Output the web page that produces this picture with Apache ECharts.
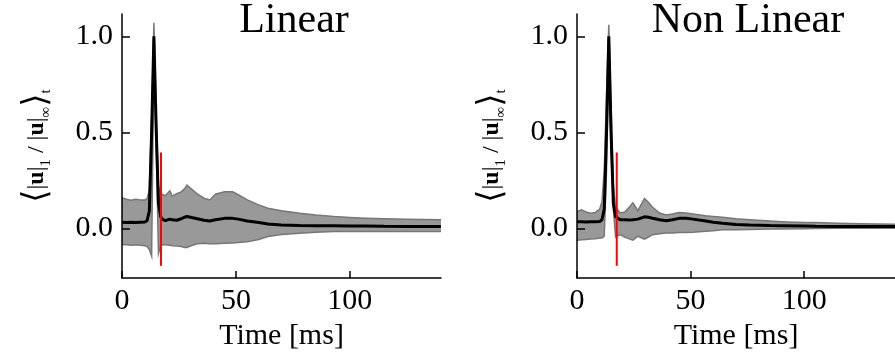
<!DOCTYPE html>
<html>
<head>
<meta charset="utf-8">
<script src="https://cdn.jsdelivr.net/npm/echarts@6/dist/echarts.min.js"></script>
<style>html,body{margin:0;padding:0;background:#fff}#c{width:895px;height:356px}</style>
</head>
<body>
<div id="c"></div>
<script>
// ---------- data ----------
const titles = ['Linear', 'Non Linear'];
const xTicks = [0, 50, 100];
const yTicks = [0, 0.5, 1.0];

const timeLin  = [0, 2, 4, 6, 8, 10, 11, 12, 13, 14, 15, 16, 17, 18, 19, 21, 22, 24, 26, 27.5, 28.5, 30, 33, 36, 38.5, 41, 45, 48.5, 51, 55, 60, 64, 70, 78, 85, 93, 100, 107, 115, 125, 140];
const meanLin  = [0.032, 0.03, 0.032, 0.03, 0.032, 0.033, 0.04, 0.09, 0.5, 1.0, 0.52, 0.13, 0.06, 0.045, 0.04, 0.048, 0.045, 0.042, 0.05, 0.058, 0.062, 0.058, 0.05, 0.042, 0.038, 0.045, 0.052, 0.052, 0.048, 0.038, 0.03, 0.023, 0.018, 0.015, 0.014, 0.013, 0.012, 0.012, 0.011, 0.01, 0.01];
const upperLin = [0.16, 0.152, 0.147, 0.152, 0.148, 0.147, 0.155, 0.2, 0.58, 1.07, 0.6, 0.22, 0.18, 0.175, 0.17, 0.195, 0.168, 0.18, 0.19, 0.207, 0.225, 0.21, 0.18, 0.157, 0.148, 0.178, 0.19, 0.19, 0.175, 0.148, 0.122, 0.105, 0.092, 0.079, 0.07, 0.062, 0.057, 0.053, 0.05, 0.047, 0.045];
const lowerLin = [-0.084, -0.085, -0.088, -0.085, -0.088, -0.09, -0.095, -0.11, -0.145, 0.93, 0.44, -0.13, -0.09, -0.084, -0.085, -0.088, -0.09, -0.092, -0.095, -0.1, -0.1, -0.092, -0.08, -0.078, -0.08, -0.08, -0.078, -0.076, -0.074, -0.07, -0.058, -0.042, -0.032, -0.025, -0.02, -0.017, -0.016, -0.016, -0.016, -0.016, -0.016];

const timeNon  = [0, 2, 4, 6, 8, 10, 11, 12, 13, 14, 15, 16, 17, 19, 21, 23, 24.6, 26.8, 29.7, 31.5, 33.3, 36.3, 39.2, 42, 45, 48, 51, 56.7, 60, 64, 70, 76, 85, 90, 100, 105, 115, 125, 140];
const meanNon  = [0.035, 0.035, 0.033, 0.034, 0.035, 0.036, 0.045, 0.1, 0.5, 1.0, 0.5, 0.13, 0.06, 0.045, 0.045, 0.043, 0.045, 0.048, 0.06, 0.058, 0.053, 0.045, 0.04, 0.045, 0.052, 0.052, 0.048, 0.038, 0.032, 0.026, 0.02, 0.017, 0.015, 0.014, 0.012, 0.011, 0.01, 0.01, 0.01];
const upperNon = [0.087, 0.096, 0.085, 0.079, 0.082, 0.1, 0.14, 0.3, 0.7, 1.06, 0.62, 0.22, 0.11, 0.08, 0.085, 0.11, 0.133, 0.092, 0.155, 0.135, 0.11, 0.08, 0.07, 0.075, 0.082, 0.08, 0.075, 0.066, 0.062, 0.058, 0.05, 0.045, 0.038, 0.035, 0.031, 0.03, 0.027, 0.024, 0.022];
const lowerNon = [-0.062, -0.06, -0.058, -0.056, -0.054, -0.05, -0.05, -0.04, 0.3, 0.93, 0.4, 0.1, -0.045, -0.033, -0.045, -0.055, -0.062, -0.041, -0.056, -0.045, -0.033, -0.028, -0.024, -0.024, -0.022, -0.021, -0.02, -0.015, -0.012, -0.007, -0.007, -0.006, -0.004, -0.003, -0.002, -0.001, 0, 0, 0];

const markerTime = [17.1, 17.5];
const markerRange = [-0.195, 0.395];

// ---------- chart ----------
const FONT = "'Liberation Serif','DejaVu Serif',serif";
const panels = [
  {t: timeLin, m: meanLin, u: upperLin, l: lowerLin, mk: markerTime[0]},
  {t: timeNon, m: meanNon, u: upperNon, l: lowerNon, mk: markerTime[1]}
];
const grids = [
  {left: 122, top: 14, width: 319, height: 268.5},
  {left: 577, top: 14, width: 320, height: 268.5}
];
const pair = (t, v) => t.map((x, i) => [x, v[i]]);

const option = {
  animation: false,
  backgroundColor: '#fff',
  title: titles.map((s, i) => ({
    text: s,
    left: i === 0 ? 289 : 743,
    top: -5,
    textAlign: 'center',
    textStyle: {fontFamily: FONT, fontSize: 42, fontWeight: 'normal', color: '#000'}
  })),
  grid: grids,
  xAxis: grids.map((g, i) => ({
    type: 'value', gridIndex: i, min: 0, max: 140, z: 5,
    name: 'Time [ms]', nameLocation: 'middle', nameGap: 38,
    nameTextStyle: {fontFamily: FONT, fontSize: 30, color: '#000'},
    axisLine: {onZero: false, lineStyle: {color: '#000', width: 1.5}},
    axisTick: {inside: true, length: 7, customValues: xTicks, lineStyle: {color: '#000', width: 1.5}},
    axisLabel: {customValues: xTicks, margin: 8, fontFamily: FONT, fontSize: 30, color: '#000'},
    splitLine: {show: false}
  })),
  yAxis: grids.map((g, i) => ({
    type: 'value', gridIndex: i, min: -0.259, max: 1.116, z: 5,
    name: '{br|⟨}{v||}{u|u}{v||}{s|1}{v| / }{v||}{u|u}{v||}{s|∞}{br|⟩}{s|t}',
    nameLocation: 'middle', nameGap: 68, nameRotate: 90,
    nameTextStyle: {
      fontFamily: FONT, fontSize: 24, color: '#000',
      rich: {
        br: {fontFamily: FONT, fontSize: 34, color: '#000'},
        v: {fontFamily: FONT, fontSize: 24, color: '#000'},
        u: {fontFamily: FONT, fontSize: 24, fontWeight: 'bold', color: '#000'},
        s: {fontFamily: FONT, fontSize: 15, color: '#000', verticalAlign: 'bottom', padding: [14, 0, 0, 0]}
      }
    },
    axisLine: {show: true, onZero: false, lineStyle: {color: '#000', width: 1.5}},
    axisTick: {show: true, inside: true, length: 8, customValues: yTicks, lineStyle: {color: '#000', width: 1.5}},
    axisLabel: {customValues: yTicks, margin: 9, fontFamily: FONT, fontSize: 30, color: '#000',
      formatter: v => v.toFixed(1)},
    splitLine: {show: false}
  })),
  series: []
};

panels.forEach((p, i) => {
  // band: one custom item that draws the polygon between lower and upper through api.coord
  const bandData = p.t.map((x, k) => [x, p.l[k], p.u[k]]);
  option.series.push({
    type: 'custom', xAxisIndex: i, yAxisIndex: i, z: 1, silent: true,
    data: bandData,
    encode: {x: 0, y: [1, 2]},
    clip: true,
    renderItem: function (params, api) {
      if (params.dataIndex !== 0) return null;
      const up = bandData.map(d => api.coord([d[0], d[2]]));
      const lo = bandData.map(d => api.coord([d[0], d[1]])).reverse();
      return {
        type: 'group',
        children: [
          {type: 'polygon', shape: {points: up.concat(lo)},
           style: {fill: '#999999', stroke: null}},
          {type: 'polyline', shape: {points: up}, style: {fill: null, stroke: '#777777', lineWidth: 1.5}},
          {type: 'polyline', shape: {points: lo}, style: {fill: null, stroke: '#777777', lineWidth: 1.5}}
        ]
      };
    }
  });
  option.series.push({
    type: 'line', xAxisIndex: i, yAxisIndex: i,
    data: pair(p.t, p.m), symbol: 'none', z: 3,
    lineStyle: {color: '#000', width: 3}
  });
  option.series.push({
    type: 'line', xAxisIndex: i, yAxisIndex: i,
    data: markerRange.map(v => [p.mk, v]), symbol: 'none', z: 4,
    lineStyle: {color: '#ff0000', width: 2}
  });
});

const chart = echarts.init(document.getElementById('c'), null, {renderer: 'canvas'});
chart.setOption(option);
</script>
</body>
</html>
